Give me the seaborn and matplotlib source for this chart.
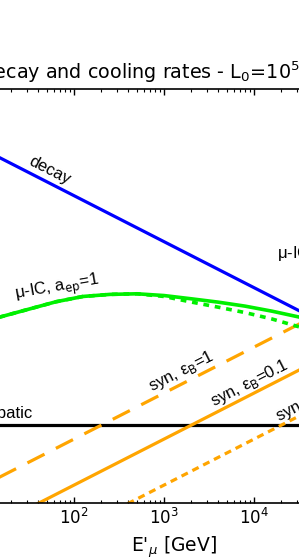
import numpy as np
import pandas as pd
import matplotlib
matplotlib.use("Agg")
import matplotlib.pyplot as plt
import seaborn as sns

# ---- data ----
E_line = [10.0, 1.0e5]                      # GeV, ends of the straight lines
decay = [4.8e3, 0.48]                       # s^-1
adiabatic = [5.0e-3, 5.0e-3]
syn_eB1 = [2.45e-4, 2.45]
syn_eB01 = [2.45e-5, 0.245]
syn_eB001 = [2.45e-6, 0.0245]

E_ic = [10.0, 15.85, 31.62, 63.1, 125.9, 251.2, 501.2, 1000.0, 1995.0,
        3981.0, 7943.0, 15850.0, 31620.0, 63100.0]
ic_solid = [0.891, 1.135, 1.641, 2.371, 3.090, 3.428, 3.532, 3.236, 2.754,
            2.328, 1.905, 1.479, 1.104, 0.794]
ic_dotted = [0.891, 1.135, 1.641, 2.371, 3.090, 3.428, 3.532, 3.090, 2.344,
             1.811, 1.380, 1.000, 0.676, 0.447]

sns.set_style("ticks")
plt.rcParams["font.family"] = ["DejaVu Sans"]
plt.rcParams["mathtext.fontset"] = "dejavusans"
for k in ["text.color", "axes.labelcolor", "xtick.color", "ytick.color", "axes.edgecolor"]:
    plt.rcParams[k] = "black"

fig = plt.figure(figsize=(2.99, 5.58), dpi=100)
W, H = 299.0, 558.0
x_left, x_right = -16.0, 364.0
y_top, y_bot = 89.0, 503.0
ax = fig.add_axes([x_left / W, (H - y_bot) / H, (x_right - x_left) / W, (y_bot - y_top) / H])

lw = 2.3
df_l = pd.DataFrame({"E": E_line, "decay": decay, "adiabatic": adiabatic,
                     "s1": syn_eB1, "s01": syn_eB01, "s001": syn_eB001})
df_ic = pd.DataFrame({"E": E_ic, "solid": ic_solid, "dotted": ic_dotted})

sns.lineplot(data=df_l, x="E", y="decay", color="#0000ff", lw=lw, ax=ax)
sns.lineplot(data=df_l, x="E", y="adiabatic", color="black", lw=lw, ax=ax)
sns.lineplot(data=df_l, x="E", y="s1", color="orange", lw=lw, linestyle=(0, (6, 4)), ax=ax)
sns.lineplot(data=df_l, x="E", y="s01", color="orange", lw=lw, ax=ax)
sns.lineplot(data=df_l, x="E", y="s001", color="orange", lw=lw, linestyle=(0, (2.2, 1.6)), ax=ax)
sns.lineplot(data=df_ic, x="E", y="dotted", color="#00f000", lw=lw + 0.3, linestyle=(0, (1.6, 1.6)), ax=ax)
sns.lineplot(data=df_ic, x="E", y="solid", color="#00f000", lw=lw + 0.3, ax=ax)

ax.set_xscale("log")
ax.set_yscale("log")
ax.set_xlim(10, 10 ** 5.222)
ax.set_ylim(1e-4, 1e5)
ax.set_xlabel("E$'_{\\mu}$ [GeV]", fontsize=13.5, labelpad=5)
ax.set_ylabel("")
ax.set_title("Decay and cooling rates - L$_0$=10$^{52}$ erg/s", fontsize=13.8, pad=7, x=0.4937)
ax.tick_params(which="both", direction="in", top=True, right=True, labelsize=12)
ax.tick_params(which="major", length=4, width=1)
ax.tick_params(which="minor", length=2.2, width=0.8)
for s in ax.spines.values():
    s.set_linewidth(1.2)

fs = 12
lab = dict(family=["Liberation Sans", "DejaVu Sans"], fontsize=fs, ha="center", va="center")
ax.text(54, 1734, "decay", rotation=-27, **lab)
ax.text(64.7, 4.49, "μ-IC, a$_{\\rm ep}$=1", rotation=10, **lab)
ax.text(1545, 0.0741, "syn, ε$_{\\rm B}$=1", rotation=27, **lab)
ax.text(9036, 0.0407, "syn, ε$_{\\rm B}$=0.1", rotation=27, **lab)
ax.text(52700, 0.0212, "syn, ε$_{\\rm B}$=0.01", rotation=27, **lab)
ax.text(35, 7.05e-3, "adiabatic", family=["Liberation Sans", "DejaVu Sans"], fontsize=fs,
        ha="right", va="baseline")
ax.text(18000, 20.1, "μ-IC, a$_{\\rm ep}$=0.1", family=["Liberation Sans", "DejaVu Sans"],
        fontsize=fs, ha="left", va="baseline")

fig.savefig("out.png", dpi=100)
